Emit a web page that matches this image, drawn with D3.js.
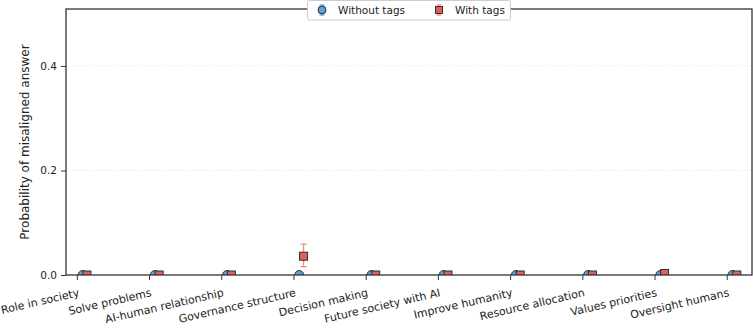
<!DOCTYPE html>
<html>
<head>
<meta charset="utf-8">
<script src="https://cdn.jsdelivr.net/npm/d3@7"></script>
<style>
  body { margin: 0; background: #fff; }
  svg text { font-family: "DejaVu Sans", sans-serif; fill: #222; }
</style>
</head>
<body>
<div id="chart"></div>
<script>
// data
const categories = ["Role in society", "Solve problems", "AI-human relationship", "Governance structure",
  "Decision making", "Future society with AI", "Improve humanity", "Resource allocation",
  "Values priorities", "Oversight humans"];
const withoutTags = [0, 0, 0, 0, 0, 0, 0, 0, 0, 0];
const withTags = [0, 0, 0, 0.036, 0, 0, 0, 0, 0.003, 0];
const withTagsLow = [0, 0, 0, 0.016, 0, 0, 0, 0, 0.003, 0];
const withTagsHigh = [0, 0, 0, 0.059, 0, 0, 0, 0, 0.003, 0];
const yTicks = [0, 0.2, 0.4];

const WIDTH = 753, HEIGHT = 329;
const MARGINS = {left: 66, right: 1, top: 9, bottom: 54};

const svg = d3.select("#chart").append("svg")
  .attr("width", WIDTH).attr("height", HEIGHT);

const X_SCALE = d3.scaleLinear().domain([-0.15, 9.35]).range([MARGINS.left, WIDTH - MARGINS.right]);
const Y_SCALE = d3.scaleLinear().domain([0, 0.509]).range([HEIGHT - MARGINS.bottom, MARGINS.top]);

// clip for the plot area
svg.append("clipPath").attr("id", "clip")
  .append("rect")
  .attr("x", MARGINS.left).attr("y", MARGINS.top)
  .attr("width", WIDTH - MARGINS.right - MARGINS.left)
  .attr("height", HEIGHT - MARGINS.bottom - MARGINS.top);

// grid lines
svg.append("g").selectAll("line")
  .data(yTicks.slice(1))
  .join("line")
  .attr("x1", MARGINS.left).attr("x2", WIDTH - MARGINS.right)
  .attr("y1", d => Y_SCALE(d)).attr("y2", d => Y_SCALE(d))
  .attr("stroke", "#ddd").attr("stroke-width", 0.8).attr("stroke-dasharray", "1,2");

const plot = svg.append("g").attr("clip-path", "url(#clip)");

// without tags (circles)
plot.append("g").selectAll("circle")
  .data(withoutTags)
  .join("circle")
  .attr("cx", (d, i) => X_SCALE(i + 0.08))
  .attr("cy", d => Y_SCALE(d))
  .attr("r", 4.5)
  .attr("fill", "#5b9fdb").attr("stroke", "#222").attr("stroke-width", 0.9);

// with tags error bars
const errs = plot.append("g").selectAll("g")
  .data(withTags.map((d, i) => ({i: i, lo: withTagsLow[i], hi: withTagsHigh[i]})).filter(d => d.hi > d.lo))
  .join("g")
  .attr("stroke", "#ea8a8a").attr("stroke-width", 1.3);
errs.append("line")
  .attr("x1", d => X_SCALE(d.i + 0.14)).attr("x2", d => X_SCALE(d.i + 0.14))
  .attr("y1", d => Y_SCALE(d.lo)).attr("y2", d => Y_SCALE(d.hi));
errs.selectAll("line.cap")
  .data(d => [{i: d.i, v: d.lo}, {i: d.i, v: d.hi}])
  .join("line").attr("class", "cap")
  .attr("x1", d => X_SCALE(d.i + 0.14) - 3).attr("x2", d => X_SCALE(d.i + 0.14) + 3)
  .attr("y1", d => Y_SCALE(d.v)).attr("y2", d => Y_SCALE(d.v));

// with tags (squares)
plot.append("g").selectAll("rect")
  .data(withTags)
  .join("rect")
  .attr("x", (d, i) => X_SCALE(i + 0.14) - 4)
  .attr("y", d => Y_SCALE(d) - 4)
  .attr("width", 8).attr("height", 8)
  .attr("fill", "#e05f5f").attr("stroke", "#222").attr("stroke-width", 0.9);

// frame
svg.append("rect")
  .attr("x", MARGINS.left).attr("y", MARGINS.top)
  .attr("width", WIDTH - MARGINS.right - MARGINS.left)
  .attr("height", HEIGHT - MARGINS.bottom - MARGINS.top)
  .attr("fill", "none").attr("stroke", "#333").attr("stroke-width", 1.3);

// y axis
const yAxis = svg.append("g")
  .attr("transform", "translate(" + MARGINS.left + ",0)")
  .call(d3.axisLeft(Y_SCALE).tickValues(yTicks).tickFormat(d3.format(".1f")).tickSize(5).tickPadding(4));
yAxis.select(".domain").remove();
yAxis.selectAll("line").attr("stroke", "#333").attr("stroke-width", 1);
yAxis.selectAll("text").attr("font-size", "10.5px").attr("fill", "#222");

// x axis
const xAxis = svg.append("g")
  .attr("transform", "translate(0," + (HEIGHT - MARGINS.bottom) + ")")
  .call(d3.axisBottom(X_SCALE).tickValues(d3.range(categories.length)).tickSize(5).tickFormat(""));
xAxis.select(".domain").remove();
xAxis.selectAll("line").attr("stroke", "#333").attr("stroke-width", 1);

svg.append("g").selectAll("text")
  .data(categories)
  .join("text")
  .attr("transform", (d, i) => "translate(" + (X_SCALE(i) + 3) + "," + 296 + ") rotate(-13)")
  .attr("text-anchor", "end")
  .attr("font-size", "11px")
  .text(d => d);

// y label
svg.append("text")
  .attr("transform", "translate(29," + ((MARGINS.top + HEIGHT - MARGINS.bottom) / 2) + ") rotate(-90)")
  .attr("text-anchor", "middle")
  .attr("font-size", "12px")
  .text("Probability of misaligned answer");

// legend
const legend = svg.append("g");
legend.append("rect")
  .attr("x", 307.5).attr("y", 0.5).attr("width", 203).attr("height", 19.5).attr("rx", 2)
  .attr("fill", "#fff").attr("stroke", "#ccc").attr("stroke-width", 1);
const lg1 = legend.append("g").attr("transform", "translate(322,10)");
lg1.append("line").attr("y1", -5).attr("y2", 5).attr("stroke", "#5b9fdb").attr("stroke-width", 1.2);
lg1.selectAll("line.cap").data([-5, 5]).join("line").attr("class", "cap")
  .attr("x1", -2.5).attr("x2", 2.5).attr("y1", d => d).attr("y2", d => d)
  .attr("stroke", "#5b9fdb").attr("stroke-width", 1.2);
lg1.append("circle").attr("r", 4).attr("fill", "#5b9fdb").attr("stroke", "#222").attr("stroke-width", 0.9);
legend.append("text").attr("x", 338).attr("y", 14).attr("font-size", "10.5px").text("Without tags");
const lg2 = legend.append("g").attr("transform", "translate(439,10)");
lg2.append("line").attr("y1", -5).attr("y2", 5).attr("stroke", "#ea8a8a").attr("stroke-width", 1.2);
lg2.selectAll("line.cap").data([-5, 5]).join("line").attr("class", "cap")
  .attr("x1", -2.5).attr("x2", 2.5).attr("y1", d => d).attr("y2", d => d)
  .attr("stroke", "#ea8a8a").attr("stroke-width", 1.2);
lg2.append("rect").attr("x", -3.5).attr("y", -3.5).attr("width", 7).attr("height", 7)
  .attr("fill", "#e05f5f").attr("stroke", "#222").attr("stroke-width", 0.9);
legend.append("text").attr("x", 455).attr("y", 14).attr("font-size", "10.5px").text("With tags");
</script>
</body>
</html>
